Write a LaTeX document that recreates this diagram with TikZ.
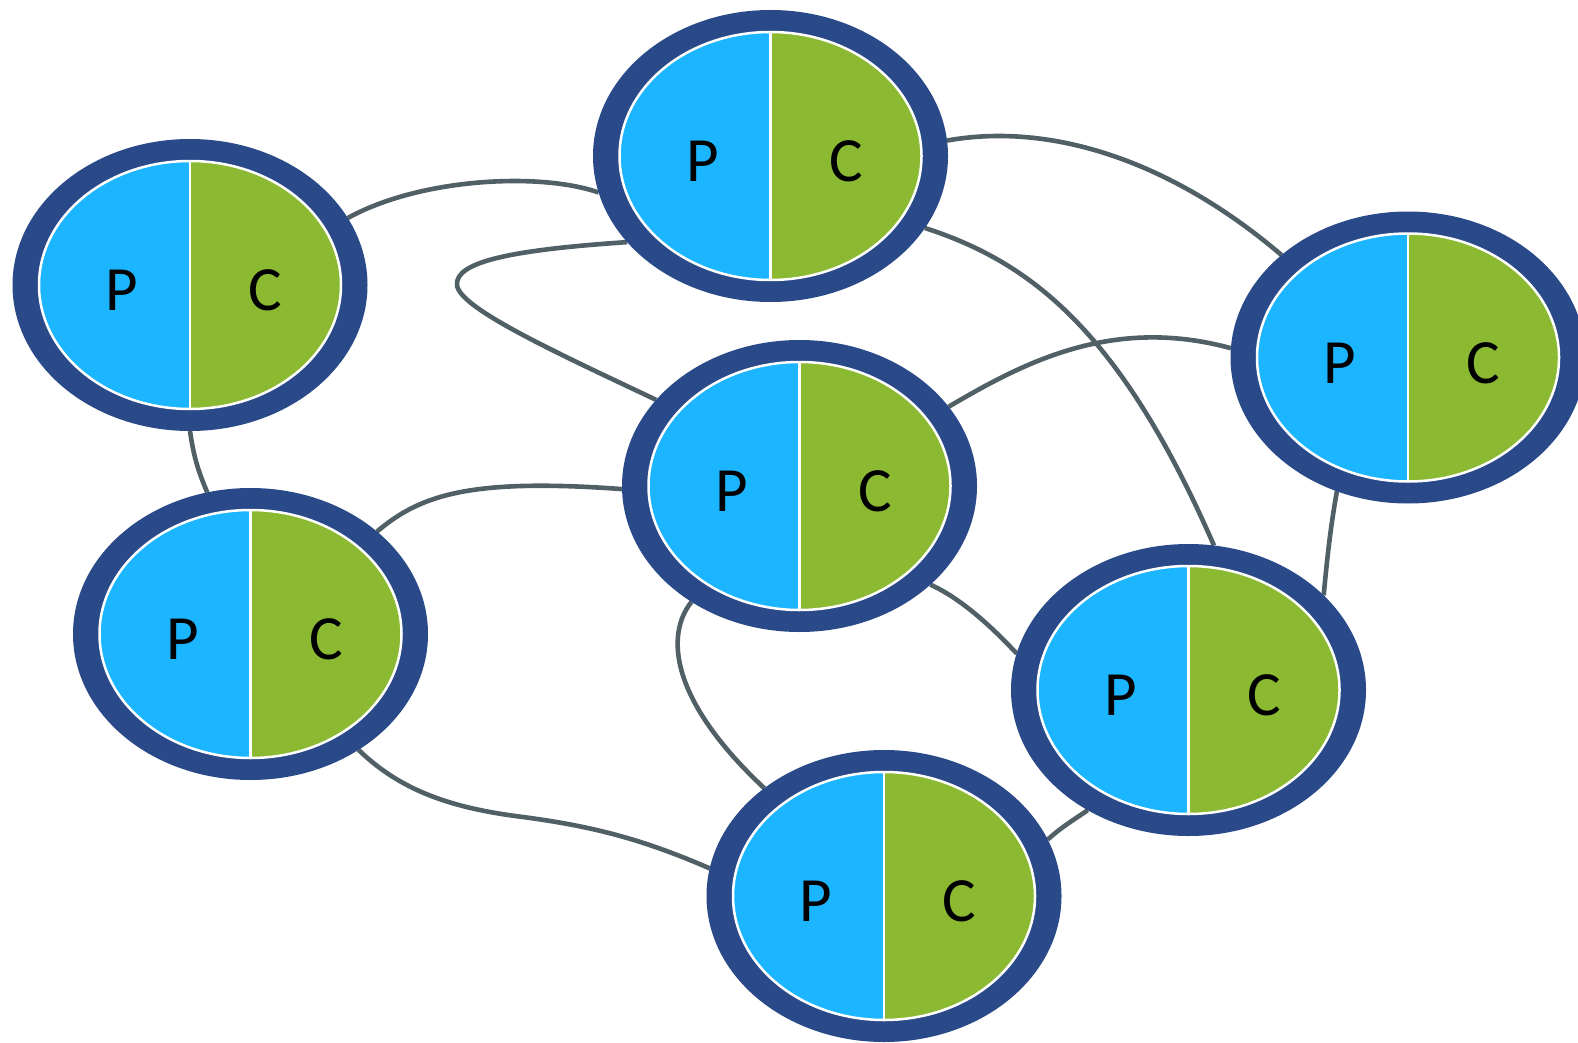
\documentclass[tikz,border=0pt]{standalone}
\usepackage{fontspec}
\setmainfont{Carlito}
\usetikzlibrary{shapes.geometric}
\pgfdeclarelayer{bg}
\pgfsetlayers{bg,main}
\definecolor{ringblue}{RGB}{42,73,137}
\definecolor{pblue}{RGB}{28,181,255}
\definecolor{cgreen}{RGB}{139,185,50}
\definecolor{linkgray}{RGB}{80,96,102}
\tikzset{
  pcring/.style={ellipse, fill=ringblue, minimum width=355pt, minimum height=292pt, inner sep=0pt, outer sep=0pt},
  link/.style={draw=linkgray, line width=4.6pt},
  halfp/.style={fill=pblue},
  halfc/.style={fill=cgreen},
  rim/.style={draw=white, line width=2.5pt},
  letter/.style={font=\fontsize{63}{63}\selectfont, anchor=base, inner sep=0pt},
}
\newcommand{\pcunit}[3]{%
  \node[pcring] (#1) at (#2,#3) {};
  \begin{scope}[shift={(#1.center)}]
    \fill[halfp] (0,-124) arc[start angle=270, end angle=90, x radius=151, y radius=124] -- cycle;
    \fill[halfc] (0,-124) arc[start angle=-90, end angle=90, x radius=151, y radius=124] -- cycle;
    \draw[rim] (0,0) ellipse[x radius=151, y radius=124];
    \draw[rim] (0,-124) -- (0,124);
    \node[letter] (#1p) at (-68,25.5) {P};
    \node[letter] (#1c) at (75.5,25.5) {C};
  \end{scope}
}
\begin{document}
\begin{tikzpicture}[x=1pt, y=-1pt]
\useasboundingbox (0,0) rectangle (1578,1043);
\begin{pgfonlayer}{bg}
  \fill[white] (0,0) rectangle (1578,1043);
\end{pgfonlayer}

\pcunit{n1}{190}{285}
\pcunit{n2}{770.5}{156}
\pcunit{n3}{1408}{357.5}
\pcunit{n4}{799.5}{486}
\pcunit{n5}{250.5}{634}
\pcunit{n6}{1188.5}{690}
\pcunit{n7}{884}{896}

\begin{pgfonlayer}{bg}
  \draw[link] (n1.23) .. controls (420,178) and (540,172) .. (n2.192);
  \draw[link] (n2.211) .. controls (510,250) and (455,262) .. (457,285)
                       .. controls (459,308) and (555,352) .. (n4.149);
  \draw[link] (n2.5) .. controls (1050,122) and (1170,160) .. (n3.141);
  \draw[link] (n2.-25) .. controls (1030,262) and (1120,330) .. (n6.80);
  \draw[link] (n4.28) .. controls (1020,365) and (1110,315) .. (n3.177);
  \draw[link] (n1.south) .. controls (194,460) and (200,475) .. (n5.107);
  \draw[link] (n5.39) .. controls (420,495) and (470,478) .. (n4.181);
  \draw[link] (n4.-37) .. controls (960,598) and (990,625) .. (n6.168);
  \draw[link] (n4.-133) .. controls (665,635) and (670,700) .. (n7.138);
  \draw[link] (n5.-47) .. controls (400,790) and (450,808) .. (523,817)
                       .. controls (590,826) and (640,838) .. (n7.171);
  \draw[link] (n3.-118) .. controls (1330,530) and (1327,560) .. (n6.35);
  \draw[link] (n7.19.5) .. controls (1060,828) and (1075,819) .. (n6.230);
\end{pgfonlayer}
\end{tikzpicture}
\end{document}
